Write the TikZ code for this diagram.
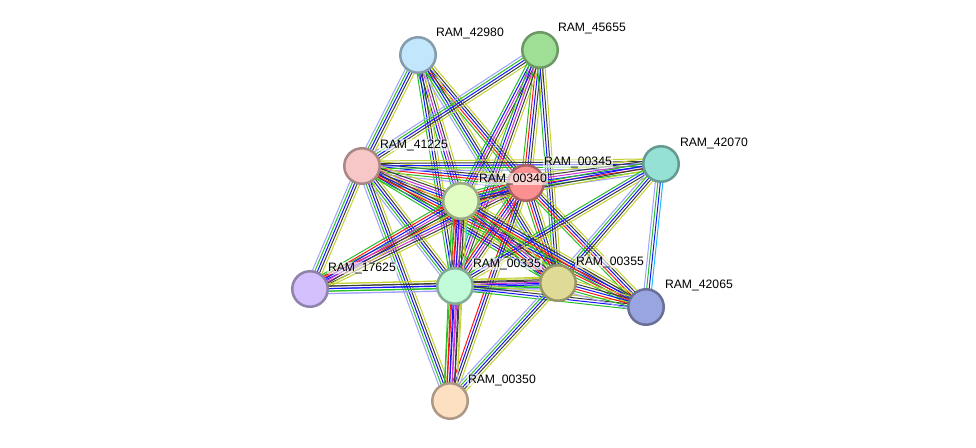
\documentclass[tikz,border=0pt]{standalone}
\usepackage{fontspec}
\setmainfont{Liberation Sans}
\usetikzlibrary{calc}
\definecolor{hom}{RGB}{160,160,255}
\definecolor{nei}{RGB}{40,190,40}
\definecolor{fus}{RGB}{255,20,20}
\definecolor{coo}{RGB}{20,20,255}
\definecolor{coe}{RGB}{60,60,60}
\definecolor{exp}{RGB}{204,50,204}
\definecolor{dat}{RGB}{30,190,235}
\definecolor{txt}{RGB}{195,210,50}
\definecolor{cA}{RGB}{194,230,251}
\definecolor{cB}{RGB}{159,223,149}
\definecolor{cC}{RGB}{247,198,198}
\definecolor{cD}{RGB}{252,144,144}
\definecolor{cE}{RGB}{149,225,214}
\definecolor{cF}{RGB}{225,253,195}
\definecolor{cG}{RGB}{211,191,251}
\definecolor{cH}{RGB}{194,251,218}
\definecolor{cI}{RGB}{223,219,151}
\definecolor{cJ}{RGB}{153,165,223}
\definecolor{cK}{RGB}{253,224,194}
\pgfdeclarelayer{edges}
\pgfsetlayers{edges,main}
\newcommand\bundle[3]{%
  \foreach \ecol [count=\ei] in {#3}{\xdef\nbund{\ei}}%
  \foreach \ecol [count=\ei] in {#3}{%
    \pgfmathsetmacro\eoff{(\ei-(\nbund+1)/2)*2.5}%
    \draw[\ecol,line width=1pt] ($(#1)!\eoff pt!90:(#2)$) -- ($(#2)!\eoff pt!-90:(#1)$);
  }%
}
\tikzset{
  prot/.style={circle, minimum size=35.5pt, inner sep=0pt, line width=2.5pt, draw=#1!68!black, fill=#1},
  lab/.style={anchor=west, font=\fontsize{12.2}{14}\selectfont, fill=white, fill opacity=0.6, text opacity=1, inner sep=0.8pt}
}
\begin{document}
\begin{tikzpicture}[x=1pt,y=-1pt]
\useasboundingbox (0,0) rectangle (976,447);
% proteins
\node[prot=cA] (A) at (418,55) {};
\node[prot=cB] (B) at (540,50) {};
\node[prot=cC] (C) at (362,166) {};
\node[prot=cD] (D) at (526,183) {};
\node[prot=cE] (E) at (661,164) {};
\node[prot=cF] (F) at (461,201) {};
\node[prot=cG] (G) at (310,289) {};
\node[prot=cH] (H) at (455,286) {};
\node[prot=cI] (I) at (558,283) {};
\node[prot=cJ] (J) at (646,307) {};
\node[prot=cK] (K) at (450,401) {};
% labels
\node[lab] (lA) at (435,33) {RAM\_42980};
\node[lab] (lB) at (557,28) {RAM\_45655};
\node[lab] (lC) at (379,145) {RAM\_41225};
\node[lab] (lD) at (543,162) {RAM\_00345};
\node[lab] (lE) at (679,143) {RAM\_42070};
\node[lab] (lF) at (478,179) {RAM\_00340};
\node[lab] (lG) at (327,268) {RAM\_17625};
\node[lab] (lH) at (472,264) {RAM\_00335};
\node[lab] (lI) at (575,262) {RAM\_00355};
\node[lab] (lJ) at (664,285) {RAM\_42065};
\node[lab] (lK) at (467,380) {RAM\_00350};
\begin{pgfonlayer}{edges}
\bundle{A}{C}{hom,nei,coo,coe,txt}
\bundle{A}{F}{nei,coo,exp,coe,txt}
\bundle{A}{D}{nei,fus,coo,coe,txt}
\bundle{A}{H}{nei,coo,coe,txt}
\bundle{A}{I}{hom,nei,coo,coe,txt}
\bundle{B}{C}{hom,nei,coo,coe,txt}
\bundle{B}{F}{nei,coo,exp,coe,txt}
\bundle{B}{D}{nei,fus,coo,coe,txt}
\bundle{B}{H}{nei,coo,exp,coe,txt}
\bundle{B}{I}{nei,coo,coe,txt}
\bundle{C}{D}{hom,nei,fus,coo,coe,txt}
\bundle{C}{E}{hom,nei,coo,coe,txt}
\bundle{C}{F}{nei,fus,coo,exp,coe,txt}
\bundle{C}{G}{hom,nei,coo,coe,txt}
\bundle{C}{H}{hom,nei,coo,coe,txt}
\bundle{C}{I}{nei,coo,coe,txt}
\bundle{C}{J}{nei,fus,coo,coe,txt}
\bundle{C}{K}{hom,nei,coo,coe,txt}
\bundle{D}{E}{hom,nei,fus,coo,exp,coe,txt}
\bundle{D}{F}{nei,fus,coo,exp,coe,txt}
\bundle{D}{G}{nei,fus,coo,exp,coe,txt}
\bundle{D}{H}{nei,fus,coo,exp,coe,txt}
\bundle{D}{I}{nei,fus,coo,coe,txt}
\bundle{D}{J}{nei,fus,coo,coe,txt}
\bundle{D}{K}{fus,coo,coe,txt}
\bundle{E}{F}{nei,coo,coe,txt}
\bundle{E}{H}{nei,coo,coe,txt}
\bundle{E}{I}{hom,nei,coo,coe,txt}
\bundle{E}{J}{hom,nei,coo,dat}
\bundle{F}{G}{nei,fus,coo,exp,coe,txt}
\bundle{F}{H}{nei,fus,coo,exp,coe,txt,dat}
\bundle{F}{I}{nei,fus,coo,exp,coe,txt}
\bundle{F}{J}{nei,fus,coo,coe,txt}
\bundle{F}{K}{nei,fus,coo,exp,coe,txt}
\bundle{G}{H}{hom,nei,coo,coe,txt}
\bundle{G}{I}{hom,nei,coo,coe,txt}
\bundle{H}{I}{hom,nei,coo,exp,coe,txt}
\bundle{H}{J}{nei,coo,coe,txt}
\bundle{H}{K}{nei,fus,coo,exp,coe,txt}
\bundle{I}{J}{hom,nei,fus,coo,coe,txt}
\bundle{I}{K}{hom,nei,coo,coe,txt}
\end{pgfonlayer}
\end{tikzpicture}
\end{document}
